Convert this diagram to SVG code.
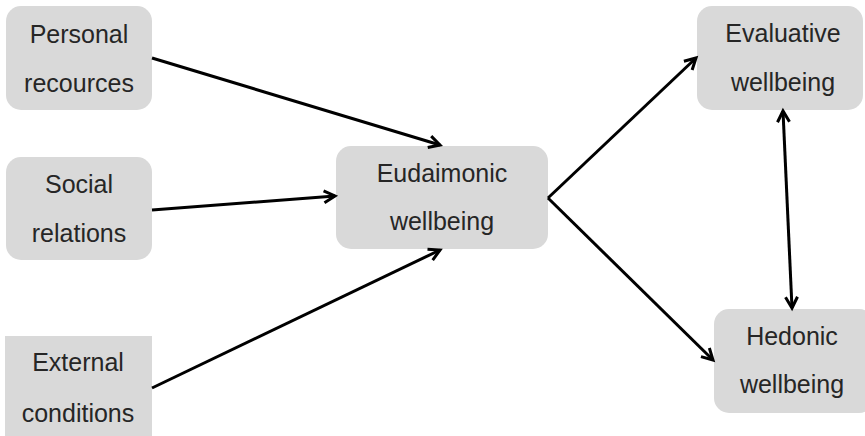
<svg xmlns="http://www.w3.org/2000/svg" width="865" height="436" viewBox="0 0 865 436">
<defs>
<style>
.box{fill:#d9d9d9;}
.t{font-family:"Liberation Sans",Arial,sans-serif;font-size:25px;fill:#262626;text-anchor:middle;}
.c{stroke:#000;stroke-width:3;fill:none;}
</style>
<marker id="ah" markerUnits="userSpaceOnUse" markerWidth="20" markerHeight="20" viewBox="-14 -10 20 20" refX="0" refY="0" orient="auto-start-reverse">
<path d="M-11,-6 L0,0 L-11,6" fill="none" stroke="#000" stroke-width="3"/>
</marker>
</defs>
<rect width="865" height="436" fill="#fff"/>
<g id="personal">
<rect class="box" x="6" y="6" width="146" height="104" rx="15"/>
<text class="t" x="79" y="43">Personal</text>
<text class="t" x="79" y="92">recources</text>
</g>
<g id="social">
<rect class="box" x="6" y="157" width="146" height="103" rx="15"/>
<text class="t" x="79" y="193">Social</text>
<text class="t" x="79" y="242">relations</text>
</g>
<g id="external">
<rect class="box" x="5" y="336" width="147" height="110"/>
<text class="t" x="78" y="371">External</text>
<text class="t" x="78" y="422">conditions</text>
</g>
<g id="eudaimonic">
<rect class="box" x="336" y="146" width="212" height="103" rx="15"/>
<text class="t" x="442" y="182">Eudaimonic</text>
<text class="t" x="442" y="230">wellbeing</text>
</g>
<g id="evaluative">
<rect class="box" x="697" y="6" width="166" height="104" rx="15"/>
<text class="t" x="783" y="42">Evaluative</text>
<text class="t" x="783" y="91">wellbeing</text>
</g>
<g id="hedonic">
<rect class="box" x="714" y="309" width="160" height="104" rx="15"/>
<text class="t" x="792" y="345">Hedonic</text>
<text class="t" x="792" y="393">wellbeing</text>
</g>
<g id="connectors">
<line class="c" x1="152" y1="58" x2="440" y2="145" marker-end="url(#ah)"/>
<line class="c" x1="152" y1="210" x2="335" y2="196" marker-end="url(#ah)"/>
<line class="c" x1="152" y1="388" x2="440" y2="250" marker-end="url(#ah)"/>
<line class="c" x1="548" y1="198" x2="696" y2="58" marker-end="url(#ah)"/>
<line class="c" x1="548" y1="198" x2="713" y2="360" marker-end="url(#ah)"/>
<line class="c" x1="783" y1="111" x2="792" y2="308" marker-start="url(#ah)" marker-end="url(#ah)"/>
</g>
</svg>
